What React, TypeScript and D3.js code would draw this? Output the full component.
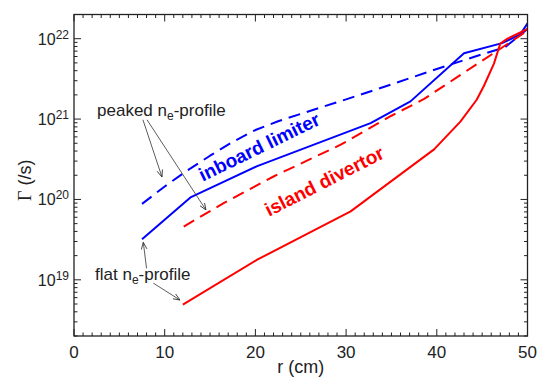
import * as d3 from 'd3'

const W = 540
const H = 378
const MARGIN = {top: 14.5, right: 12.5, bottom: 42, left: 74}
const FONT = "'Liberation Sans', Arial, sans-serif"

// flat n_e-profile, inboard limiter (solid blue)
const rFlatLimiter = [7.5, 12.9, 20.2, 32.7, 37.1, 43.0, 47.2, 49.2, 50]
const gFlatLimiter = [3.2e19, 1.07e20, 2.6e20, 8.9e20, 1.66e21, 6.6e21, 8.8e21, 1.13e22, 1.55e22]

// peaked n_e-profile, inboard limiter (dashed blue)
const rPeakedLimiter = [7.5, 10, 12.5, 15, 17.5, 20, 22.5, 25, 30, 35, 40, 45, 47.5, 50]
const gPeakedLimiter = [8.8e19, 1.45e20, 2.3e20, 3.5e20, 5.2e20, 7.3e20, 9.4e20, 1.16e21, 1.76e21, 2.7e21, 4.2e21, 6.4e21, 7.8e21, 1.32e22]

// peaked n_e-profile, island divertor (dashed red)
const rPeakedDivertor = [12.1, 16.5, 22.0, 29.4, 35, 38.6, 42.2, 47.0, 50]
const gPeakedDivertor = [4.6e19, 9.0e19, 1.93e20, 4.8e20, 1.1e21, 1.78e21, 3.3e21, 7.5e21, 1.26e22]

// flat n_e-profile, island divertor (solid red)
const rFlatDivertor = [12.0, 20.2, 30.5, 39.7, 42.6, 44.4, 45.2, 46.3, 47.0, 47.8, 50]
const gFlatDivertor = [4.9e18, 1.78e19, 7.1e19, 4.2e20, 9.3e20, 1.74e21, 2.6e21, 4.9e21, 8.7e21, 1.0e22, 1.32e22]

const xTickLabels = [0, 10, 20, 30, 40, 50]
const yExponents = [19, 20, 21, 22]

const series = [
  {r: rFlatLimiter, g: gFlatLimiter, color: '#0000ff', dash: null},
  {r: rPeakedLimiter, g: gPeakedLimiter, color: '#0000ff', dash: '12,7'},
  {r: rPeakedDivertor, g: gPeakedDivertor, color: '#ff0000', dash: '12,7'},
  {r: rFlatDivertor, g: gFlatDivertor, color: '#ff0000', dash: null},
]

// annotation arrows in data coordinates: [r0, g0, r1, g1], tip at the end
const arrows = [
  [7.6, 9.8e20, 9.7, 1.9e20],
  [8.05, 9.8e20, 14.55, 7.4e19],
  [8.0, 1.39e19, 7.64, 2.93e19],
  [8.74, 9.1e18, 11.69, 5.6e18],
]

export default function App() {
  const x = d3.scaleLinear().domain([0, 50]).range([MARGIN.left, W - MARGIN.right])
  const y = d3.scaleLog().domain([2e18, 2e22]).range([H - MARGIN.bottom, MARGIN.top])
  const line = d3
    .line<[number, number]>()
    .x(d => x(d[0]))
    .y(d => y(d[1]))

  const x0 = x.range()[0]
  const x1 = x.range()[1]
  const y0 = y.range()[0]
  const y1 = y.range()[1]

  const xMinor = d3.range(0, 51, 1)
  const yTicks = y.ticks()
  const isMajorY = (v: number) => Math.abs(Math.log10(v) - Math.round(Math.log10(v))) < 1e-9

  return (
    <svg width={W} height={H} style={{position: 'absolute', left: 0, top: 0, background: '#fff'}}>
      <defs>
        <marker id="arr" viewBox="0 0 10 10" refX="10" refY="5" markerWidth="7" markerHeight="7" orient="auto" markerUnits="userSpaceOnUse">
          <path d="M0,1 L10,5 L0,9" fill="none" stroke="#333" strokeWidth={1.2} />
        </marker>
      </defs>

      {series.map((s, i) => (
        <path
          key={i}
          d={line(s.r.map((r, j) => [r, s.g[j]] as [number, number])) || ''}
          fill="none"
          stroke={s.color}
          strokeWidth={2}
          strokeDasharray={s.dash || undefined}
          strokeLinejoin="round"
        />
      ))}

      {/* ticks, pointing inward on all four sides */}
      <g stroke="#222" strokeWidth={1}>
        {xMinor.map(v => {
          const len = v % 10 === 0 ? 7 : 3.5
          return (
            <g key={v}>
              <line x1={x(v)} x2={x(v)} y1={y0} y2={y0 - len} />
              <line x1={x(v)} x2={x(v)} y1={y1} y2={y1 + len} />
            </g>
          )
        })}
        {yTicks.map((v, i) => {
          const len = isMajorY(v) ? 7 : 3.5
          return (
            <g key={i}>
              <line x1={x0} x2={x0 + len} y1={y(v)} y2={y(v)} />
              <line x1={x1} x2={x1 - len} y1={y(v)} y2={y(v)} />
            </g>
          )
        })}
      </g>
      <rect x={x0} y={y1} width={x1 - x0} height={y0 - y1} fill="none" stroke="#222" strokeWidth={1.3} />

      <g fontFamily={FONT} fill="#222">
        {xTickLabels.map(v => (
          <text key={v} x={x(v)} y={y0 + 22} fontSize={17} textAnchor="middle">
            {v}
          </text>
        ))}
        {yExponents.map(e => (
          <text key={e} x={x0 - 5} y={y(Math.pow(10, e)) + 6} fontSize={16} textAnchor="end">
            10
            <tspan fontSize={12} dy={-6}>
              {e}
            </tspan>
          </text>
        ))}
        <text x={(x0 + x1) / 2} y={H - 5} fontSize={18} textAnchor="middle">
          r (cm)
        </text>
        <text transform={`translate(31,${(y0 + y1) / 2 + 5}) rotate(-90)`} fontSize={18} textAnchor="middle">
          <tspan fontFamily="'Liberation Serif', serif">Γ</tspan> (/s)
        </text>
      </g>

      {/* annotations */}
      <g fontFamily={FONT}>
        <text x={x(2.54)} y={y(1.1e21)} fontSize={17} fill="#222">
          peaked n
          <tspan fontSize={12} dy={4}>
            e
          </tspan>
          <tspan dy={-4}>-profile</tspan>
        </text>
        <text x={x(2.32)} y={y(9.9e18)} fontSize={17} fill="#222">
          flat n
          <tspan fontSize={12} dy={4}>
            e
          </tspan>
          <tspan dy={-4}>-profile</tspan>
        </text>
        <text
          transform={`translate(${x(14.2)},${y(1.66e20)}) rotate(-26)`}
          fontSize={19}
          fontWeight="bold"
          fill="#0000ff">
          inboard limiter
        </text>
        <text
          transform={`translate(${x(21.5)},${y(6.08e19)}) rotate(-27)`}
          fontSize={19}
          fontWeight="bold"
          fill="#ff0000">
          island divertor
        </text>
        {arrows.map((a, i) => (
          <line
            key={i}
            x1={x(a[0])}
            y1={y(a[1])}
            x2={x(a[2])}
            y2={y(a[3])}
            stroke="#333"
            strokeWidth={0.8}
            markerEnd="url(#arr)"
          />
        ))}
      </g>
    </svg>
  )
}
